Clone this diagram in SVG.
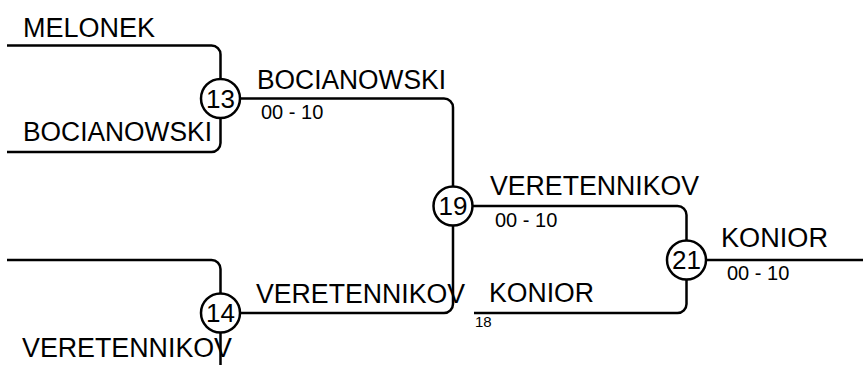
<svg xmlns="http://www.w3.org/2000/svg" width="863" height="365" viewBox="0 0 863 365">
<style>
.ln{fill:none;stroke:#000;stroke-width:2.5}
.nd circle{fill:#fff;stroke:#000;stroke-width:2.5}
text{font-family:"Liberation Sans",Arial,sans-serif;fill:#000}
.nm{font-size:27px}
.sc{font-size:20px}
.num{font-size:26px;text-anchor:middle}
.sm{font-size:15px}
</style>
<rect width="863" height="365" fill="#fff"/>
<g id="connectors">
<path class="ln" d="M7,45.5 H211.5 A9,9 0 0 1 220.5,54.5 V79"/>
<path class="ln" d="M7,152 H211.5 A9,9 0 0 0 220.5,143 V118"/>
<path class="ln" d="M240,98.5 H444 A9,9 0 0 1 453,107.5 V186.5"/>
<path class="ln" d="M7,260 H211.5 A9,9 0 0 1 220.5,269 V293.5"/>
<path class="ln" d="M220.5,332.5 V365"/>
<path class="ln" d="M240,313 H444 A9,9 0 0 0 453,304 V225.5"/>
<path class="ln" d="M472.5,206 H677.5 A9,9 0 0 1 686.5,215 V240.5"/>
<path class="ln" d="M474,313 H677.5 A9,9 0 0 0 686.5,304 V279.5"/>
<path class="ln" d="M706,260 H863"/>
</g>
<g id="labels">
<text class="nm" x="23" y="37" textLength="132" lengthAdjust="spacingAndGlyphs">MELONEK</text>
<text class="nm" x="23" y="141" textLength="189" lengthAdjust="spacingAndGlyphs">BOCIANOWSKI</text>
<text class="nm" x="22" y="357" textLength="210" lengthAdjust="spacingAndGlyphs">VERETENNIKOV</text>
<text class="nm" x="257" y="88.5" textLength="189" lengthAdjust="spacingAndGlyphs">BOCIANOWSKI</text>
<text class="sc" x="261" y="119">00 - 10</text>
<text class="nm" x="490" y="195" textLength="209" lengthAdjust="spacingAndGlyphs">VERETENNIKOV</text>
<text class="sc" x="495" y="226.5">00 - 10</text>
<text class="nm" x="256" y="303" textLength="209" lengthAdjust="spacingAndGlyphs">VERETENNIKOV</text>
<text class="nm" x="489" y="302" textLength="105" lengthAdjust="spacingAndGlyphs">KONIOR</text>
<text class="sm" x="475" y="327">18</text>
<text class="nm" x="721" y="247" textLength="107" lengthAdjust="spacingAndGlyphs">KONIOR</text>
<text class="sc" x="727" y="280">00 - 10</text>
</g>
<g id="n13" class="nd"><circle cx="220.5" cy="98.5" r="19.5"/><text class="num" x="220.5" y="107.5">13</text></g>
<g id="n14" class="nd"><circle cx="220.5" cy="313" r="19.5"/><text class="num" x="220.5" y="322">14</text></g>
<g id="n19" class="nd"><circle cx="453" cy="206" r="19.5"/><text class="num" x="453" y="215">19</text></g>
<g id="n21" class="nd"><circle cx="686.5" cy="260" r="19.5"/><text class="num" x="686.5" y="269">21</text></g>
</svg>
